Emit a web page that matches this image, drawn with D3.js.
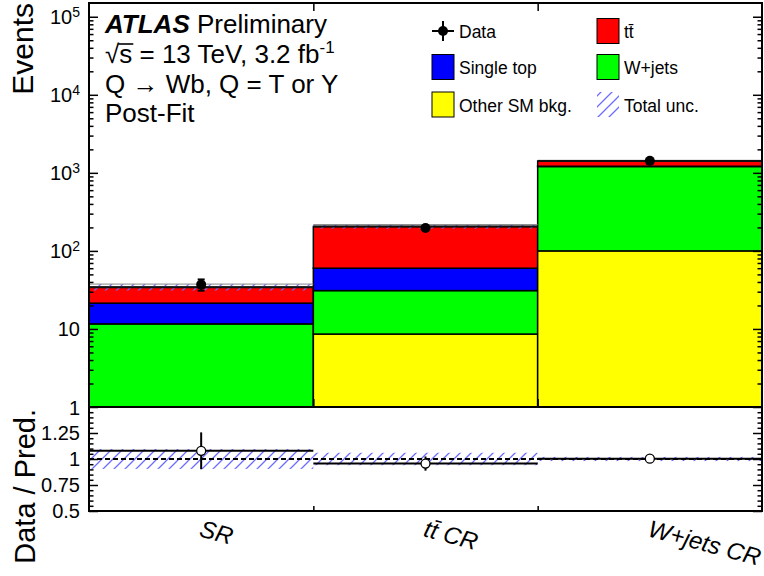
<!DOCTYPE html>
<html>
<head>
<meta charset="utf-8">
<script src="https://d3js.org/d3.v7.min.js"></script>
<style>
  body { margin: 0; background: #fff; }
  svg { display: block; font-family: "Liberation Sans", Arial, Helvetica, sans-serif; }
  .axis path { stroke: none; }
  .axis line { stroke: #000; stroke-width: 1.5; }
  .axis text { font-size: 20px; fill: #000; }
</style>
</head>
<body>
<svg width="764" height="576"></svg>
<script>
// regions (x bins)
var categories = ["SR", "tt\u0304 CR", "W+jets CR"];

// post-fit yields per region, stacked bottom -> top
var otherSM   = [0.9, 8.6, 100];
var wjets     = [10.7, 22.4, 1105];
var singleTop = [9.8, 29, 10];
var ttbar     = [12.9, 145, 205];

var dataEvents = [37, 196, 1425];
// relative total uncertainty on the prediction
var totalUnc = [0.095, 0.06, 0.02];

var logTicks = [1, 10, 100, 1000, 10000, 100000];
var ratioTicks = [0.5, 0.75, 1, 1.25];

var samples = [
  {name: "Other SM bkg.", values: otherSM, color: "#ffff00"},
  {name: "W+jets", values: wjets, color: "#00ff00"},
  {name: "Single top", values: singleTop, color: "#0000ff"},
  {name: "tt\u0304", values: ttbar, color: "#ff0000"}
];

var svg = d3.select("svg");
var left = 89, right = 762;
var mainTop = 3, mainBottom = 407, ratioBottom = 511;

var x = d3.scaleBand()
    .domain(categories)
    .range([left, right]);

var y = d3.scaleLog()
    .domain([1, 1.5e5])
    .range([mainBottom, mainTop])
    .clamp(true);

var yr = d3.scaleLinear()
    .domain([0.5, 1.5])
    .range([ratioBottom, mainBottom]);

// hatch for the uncertainty band
var defs = svg.append("defs");
var pat = defs.append("pattern")
    .attr("id", "hatch")
    .attr("patternUnits", "userSpaceOnUse")
    .attr("width", 11).attr("height", 11);
pat.append("path")
    .attr("d", "M0,11 L11,0 M-2,2 L2,-2 M9,13 L13,9")
    .attr("stroke", "#6c6cff")
    .attr("stroke-width", 1.3);

defs.append("clipPath").attr("id", "clipMain")
  .append("rect")
    .attr("x", left).attr("y", mainTop)
    .attr("width", right - left).attr("height", mainBottom - mainTop);

// totals
var totals = categories.map(function(c, i) {
  return d3.sum(samples, function(s) { return s.values[i]; });
});

// ---------- main panel ----------
var main = svg.append("g").attr("clip-path", "url(#clipMain)");

var stackData = [];
categories.forEach(function(c, i) {
  var base = 0;
  samples.forEach(function(s) {
    stackData.push({cat: c, y0: base, y1: base + s.values[i], color: s.color});
    base += s.values[i];
  });
});

main.selectAll(".stack")
  .data(stackData)
  .enter().append("rect")
    .attr("class", "stack")
    .attr("x", function(d) { return x(d.cat); })
    .attr("width", x.bandwidth())
    .attr("y", function(d) { return y(Math.max(d.y1, 1)); })
    .attr("height", function(d) { return y(Math.max(d.y0, 1)) - y(Math.max(d.y1, 1)); })
    .attr("fill", function(d) { return d.color; })
    .attr("stroke", "#000")
    .attr("stroke-width", 1.5);

// uncertainty band
main.selectAll(".band")
  .data(categories)
  .enter().append("rect")
    .attr("class", "band")
    .attr("x", function(d) { return x(d); })
    .attr("width", x.bandwidth())
    .attr("y", function(d, i) { return y(totals[i] * (1 + totalUnc[i])); })
    .attr("height", function(d, i) { return y(totals[i] * (1 - totalUnc[i])) - y(totals[i] * (1 + totalUnc[i])); })
    .attr("fill", "url(#hatch)");

main.selectAll(".bandTop")
  .data(categories)
  .enter().append("line")
    .attr("x1", function(d) { return x(d); })
    .attr("x2", function(d) { return x(d) + x.bandwidth(); })
    .attr("y1", function(d, i) { return y(totals[i] * (1 + totalUnc[i])); })
    .attr("y2", function(d, i) { return y(totals[i] * (1 + totalUnc[i])); })
    .attr("stroke", "#888")
    .attr("stroke-width", 1);

// total outline
main.selectAll(".total")
  .data(categories)
  .enter().append("line")
    .attr("x1", function(d) { return x(d); })
    .attr("x2", function(d) { return x(d) + x.bandwidth(); })
    .attr("y1", function(d, i) { return y(totals[i]); })
    .attr("y2", function(d, i) { return y(totals[i]); })
    .attr("stroke", "#111")
    .attr("stroke-width", 2);

// data points
var pts = svg.append("g");
categories.forEach(function(c, i) {
  var cx = x(c) + x.bandwidth() / 2;
  var err = Math.sqrt(dataEvents[i]);
  var yu = y(dataEvents[i] + err), yd = y(dataEvents[i] - err);
  pts.append("line").attr("x1", cx).attr("x2", cx).attr("y1", yu).attr("y2", yd)
      .attr("stroke", "#000").attr("stroke-width", 2);
  [yu, yd].forEach(function(v) {
    pts.append("line").attr("x1", cx - 3.5).attr("x2", cx + 3.5).attr("y1", v).attr("y2", v)
        .attr("stroke", "#000").attr("stroke-width", 2);
  });
  pts.append("circle").attr("cx", cx).attr("cy", y(dataEvents[i])).attr("r", 5).attr("fill", "#000");
});

// ---------- ratio panel ----------
var ratio = svg.append("g");

ratio.selectAll(".rband")
  .data(categories)
  .enter().append("rect")
    .attr("x", function(d) { return x(d); })
    .attr("width", x.bandwidth())
    .attr("y", function(d, i) { return yr(1 + totalUnc[i]); })
    .attr("height", function(d, i) { return yr(1 - totalUnc[i]) - yr(1 + totalUnc[i]); })
    .attr("fill", "url(#hatch)");

ratio.append("line")
    .attr("x1", left).attr("x2", right)
    .attr("y1", yr(1)).attr("y2", yr(1))
    .attr("stroke", "#000").attr("stroke-width", 2)
    .attr("stroke-dasharray", "5,3");

categories.forEach(function(c, i) {
  var r = dataEvents[i] / totals[i];
  var re = Math.sqrt(dataEvents[i]) / totals[i];
  var cx = x(c) + x.bandwidth() / 2;
  ratio.append("line")
      .attr("x1", x(c)).attr("x2", x(c) + x.bandwidth())
      .attr("y1", yr(r)).attr("y2", yr(r))
      .attr("stroke", "#000").attr("stroke-width", 2);
  ratio.append("line")
      .attr("x1", cx).attr("x2", cx)
      .attr("y1", yr(r + re)).attr("y2", yr(r - re))
      .attr("stroke", "#000").attr("stroke-width", 2);
  ratio.append("circle")
      .attr("cx", cx).attr("cy", yr(r)).attr("r", 4.5)
      .attr("fill", "#fff").attr("stroke", "#000").attr("stroke-width", 1.3);
});

// ---------- axes ----------
var minorLog = [];
for (var e = 0; e < 6; e++) {
  for (var m = 2; m <= 9; m++) {
    if (m * Math.pow(10, e) < 1.5e5) minorLog.push(m * Math.pow(10, e));
  }
}

var yAxis = svg.append("g")
    .attr("class", "axis")
    .attr("transform", "translate(" + left + ",0)")
    .call(d3.axisLeft(y).tickValues(logTicks).tickSizeInner(-9).tickSizeOuter(0).tickPadding(9)
      .tickFormat(function() { return ""; }));

yAxis.selectAll(".tick text").each(function(d) {
  var t = d3.select(this);
  var p = Math.round(Math.log10(d));
  t.attr("dy", "0.35em");
  if (p === 0) { t.text("1"); }
  else if (p === 1) { t.text("10"); }
  else {
    t.text("10");
    t.append("tspan").attr("dy", "-0.55em").attr("font-size", "14px").text(p);
  }
});

svg.append("g")
    .attr("class", "axis")
    .attr("transform", "translate(" + left + ",0)")
    .call(d3.axisLeft(y).tickValues(minorLog).tickSizeInner(-4.5).tickSizeOuter(0).tickFormat(""));

svg.append("g")
    .attr("class", "axis")
    .attr("transform", "translate(" + right + ",0)")
    .call(d3.axisRight(y).tickValues(logTicks).tickSizeInner(-9).tickSizeOuter(0).tickFormat(""));
svg.append("g")
    .attr("class", "axis")
    .attr("transform", "translate(" + right + ",0)")
    .call(d3.axisRight(y).tickValues(minorLog).tickSizeInner(-4.5).tickSizeOuter(0).tickFormat(""));

var minorRatio = d3.range(0.55, 1.5, 0.05).filter(function(v) {
  return Math.abs(v * 4 - Math.round(v * 4)) > 0.01;
});

svg.append("g")
    .attr("class", "axis")
    .attr("transform", "translate(" + left + ",0)")
    .call(d3.axisLeft(yr).tickValues(ratioTicks).tickSizeInner(-9).tickSizeOuter(0).tickPadding(9)
      .tickFormat(function(d) { return String(d); }));
svg.append("g")
    .attr("class", "axis")
    .attr("transform", "translate(" + left + ",0)")
    .call(d3.axisLeft(yr).tickValues(minorRatio).tickSizeInner(-4.5).tickSizeOuter(0).tickFormat(""));
svg.append("g")
    .attr("class", "axis")
    .attr("transform", "translate(" + right + ",0)")
    .call(d3.axisRight(yr).tickValues(ratioTicks).tickSizeInner(-9).tickSizeOuter(0).tickFormat(""));
svg.append("g")
    .attr("class", "axis")
    .attr("transform", "translate(" + right + ",0)")
    .call(d3.axisRight(yr).tickValues(minorRatio).tickSizeInner(-4.5).tickSizeOuter(0).tickFormat(""));

// x ticks at the bin edges
var edges = categories.slice(1).map(function(c) { return x(c); });
svg.append("g").attr("class", "axis").attr("transform", "translate(0," + mainTop + ")")
    .call(d3.axisTop(d3.scaleIdentity()).tickValues(edges).tickSizeInner(-8).tickSizeOuter(0).tickFormat(""));
svg.append("g").attr("class", "axis").attr("transform", "translate(0," + mainBottom + ")")
    .call(d3.axisBottom(d3.scaleIdentity()).tickValues(edges).tickSizeInner(-8).tickSizeOuter(0).tickFormat(""));
svg.append("g").attr("class", "axis").attr("transform", "translate(0," + ratioBottom + ")")
    .call(d3.axisBottom(d3.scaleIdentity()).tickValues(edges).tickSizeInner(-5).tickSizeOuter(0).tickFormat(""));

// frames
[[mainTop, mainBottom], [mainBottom, ratioBottom]].forEach(function(f) {
  svg.append("rect")
      .attr("x", left).attr("y", f[0])
      .attr("width", right - left).attr("height", f[1] - f[0])
      .attr("fill", "none").attr("stroke", "#000").attr("stroke-width", 2);
});

// x labels, rotated
svg.selectAll(".xlab")
  .data(categories)
  .enter().append("text")
    .attr("class", "xlab")
    .attr("transform", function(d) {
      return "translate(" + (x(d) + x.bandwidth() / 2 - 3) + ",536) rotate(15)";
    })
    .attr("font-size", "24px")
    .attr("font-style", "italic")
    .text(function(d) { return d; });

// axis titles
svg.append("text")
    .attr("transform", "translate(33,3) rotate(-90)")
    .attr("text-anchor", "end")
    .attr("font-size", "30px")
    .text("Events");

svg.append("text")
    .attr("transform", "translate(35,409) rotate(-90)")
    .attr("text-anchor", "end")
    .attr("font-size", "29px")
    .text("Data / Pred.");

// ATLAS label
var lab = svg.append("text").attr("x", 105).attr("y", 33).attr("font-size", "26px");
lab.append("tspan").attr("font-weight", "bold").attr("font-style", "italic").text("ATLAS");
lab.append("tspan").text(" Preliminary");

var l2 = svg.append("text").attr("x", 105).attr("y", 63).attr("font-size", "26px");
l2.append("tspan").text("\u221As = 13 TeV, 3.2 fb");
l2.append("tspan").attr("dy", "-0.6em").attr("font-size", "17px").text("-1");

// bar of the square root over the s
var rootBox = l2.node().getExtentOfChar(0);
var sEnd = l2.node().getEndPositionOfChar(1);
svg.append("line")
    .attr("x1", rootBox.x + rootBox.width - 1).attr("x2", sEnd.x + 1)
    .attr("y1", 44).attr("y2", 44)
    .attr("stroke", "#000").attr("stroke-width", 1.6);

svg.append("text").attr("x", 105).attr("y", 93).attr("font-size", "26px")
    .text("Q \u2192 Wb, Q = T or Y");
svg.append("text").attr("x", 105).attr("y", 122).attr("font-size", "26px")
    .text("Post-Fit");

// legend
var legendItems = [
  {label: "Data", type: "data", col: 0, row: 0},
  {label: "tt\u0304", type: "box", color: "#ff0000", col: 1, row: 0},
  {label: "Single top", type: "box", color: "#0000ff", col: 0, row: 1},
  {label: "W+jets", type: "box", color: "#00ff00", col: 1, row: 1},
  {label: "Other SM bkg.", type: "box", color: "#ffff00", col: 0, row: 2},
  {label: "Total unc.", type: "hatch", col: 1, row: 2}
];
var colX = [432, 597], rowY = [31, 67, 104.5];

var leg = svg.append("g").attr("class", "legend");
legendItems.forEach(function(it) {
  var lx = colX[it.col], ly = rowY[it.row];
  if (it.type === "data") {
    leg.append("line").attr("x1", lx).attr("x2", lx + 22).attr("y1", ly).attr("y2", ly)
        .attr("stroke", "#000").attr("stroke-width", 2);
    leg.append("line").attr("x1", lx + 11).attr("x2", lx + 11).attr("y1", ly - 10).attr("y2", ly + 10)
        .attr("stroke", "#000").attr("stroke-width", 2);
    leg.append("circle").attr("cx", lx + 11).attr("cy", ly).attr("r", 5).attr("fill", "#000");
  } else if (it.type === "box") {
    leg.append("rect").attr("x", lx).attr("y", ly - 12.5).attr("width", 22).attr("height", 25)
        .attr("fill", it.color).attr("stroke", "#000").attr("stroke-width", 1);
  } else {
    leg.append("rect").attr("x", lx).attr("y", ly - 12.5).attr("width", 22).attr("height", 25)
        .attr("fill", "url(#hatch)");
  }
  leg.append("text")
      .attr("x", lx + 27).attr("y", ly + 7)
      .attr("font-size", "17.5px")
      .text(it.label);
});
</script>
</body>
</html>
